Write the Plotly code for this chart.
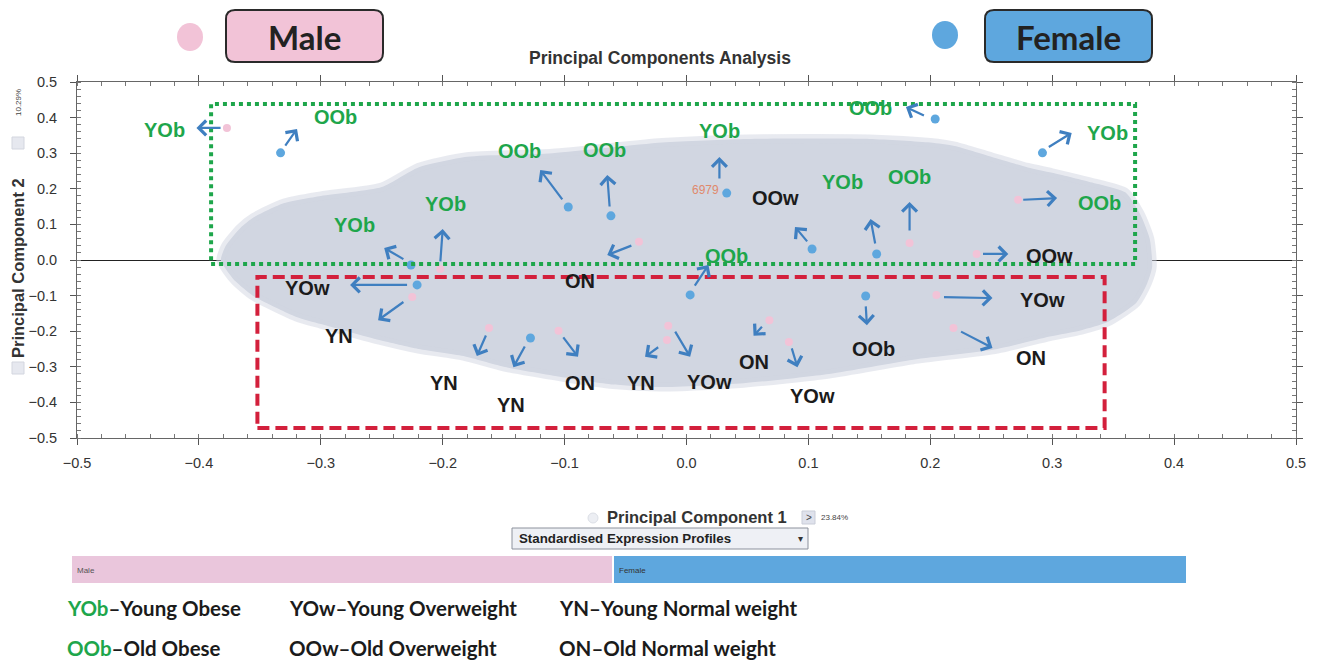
import plotly.graph_objects as go

# ---------------- data ----------------
# samples: sex, weight/age group and PCA scores
sex = ['M', 'F', 'F', 'M', 'F', 'M', 'M', 'F', 'M', 'M', 'M', 'M', 'F', 'F',
       'F', 'F', 'F', 'F', 'M', 'F', 'F', 'M', 'M', 'M', 'M', 'F', 'M', 'M']
group = ['YOb', 'OOb', 'YOb', 'YOb', 'YOw', 'YN', 'YN', 'YN', 'ON', 'YN', 'YOw', 'ON', 'OOb', 'OOb',
         'YOb', 'OOb', 'OOw', 'YOb', 'OOb', 'OOb', 'YOb', 'OOb', 'OOw', 'YOw', 'ON', 'OOb', 'ON', 'YOw']
pc1 = [-0.377, -0.333, -0.226, -0.202, -0.221, -0.225, -0.162, -0.128, -0.105, -0.016, -0.015, -0.039, -0.097, -0.062,
       0.033, 0.003, 0.103, 0.156, 0.183, 0.204, 0.292, 0.272, 0.238, 0.205, 0.219, 0.147, 0.068, 0.084]
pc2 = [0.371, 0.301, -0.014, -0.025, -0.070, -0.104, -0.191, -0.219, -0.199, -0.225, -0.185, 0.051, 0.149, 0.124,
       0.188, -0.098, 0.031, 0.017, 0.048, 0.396, 0.301, 0.169, 0.017, -0.098, -0.191, -0.101, -0.169, -0.230]

# direction arrows (tail -> head) and label anchor for each sample
tail_x = [-0.381, -0.330, -0.231, -0.202, -0.228, -0.231, -0.164, -0.132, -0.102, -0.022, -0.010, -0.044, -0.101, -0.063,
          0.027, 0.006, 0.100, 0.155, 0.183, 0.196, 0.296, 0.275, 0.242, 0.210, 0.224, 0.147, 0.063, 0.086]
tail_y = [0.371, 0.317, 0.000, -0.008, -0.070, -0.115, -0.208, -0.239, -0.213, -0.242, -0.197, 0.042, 0.166, 0.146,
          0.225, -0.076, 0.048, 0.042, 0.079, 0.404, 0.315, 0.169, 0.017, -0.104, -0.199, -0.126, -0.183, -0.244]
head_x = [-0.402, -0.3195, -0.248, -0.200, -0.276, -0.253, -0.172, -0.142, -0.089, -0.034, 0.003, -0.065, -0.120, -0.065,
          0.027, 0.018, 0.089, 0.151, 0.183, 0.180, 0.316, 0.304, 0.264, 0.251, 0.251, 0.148, 0.055, 0.091]
head_y = [0.371, 0.368, 0.034, 0.087, -0.070, -0.169, -0.270, -0.301, -0.272, -0.272, -0.272, 0.014, 0.253, 0.239,
          0.289, -0.014, 0.093, 0.115, 0.163, 0.430, 0.357, 0.174, 0.017, -0.107, -0.247, -0.183, -0.213, -0.301]
label_x = [-0.428, -0.288, -0.272, -0.198, -0.311, -0.285, -0.199, -0.144, -0.087, -0.037, 0.019, -0.087, -0.137, -0.067,
           0.027, 0.033, 0.073, 0.128, 0.183, 0.151, 0.345, 0.339, 0.298, 0.292, 0.283, 0.153, 0.055, 0.103]
label_y = [0.365, 0.402, 0.098, 0.157, -0.079, -0.213, -0.346, -0.407, -0.346, -0.346, -0.343, -0.059, 0.306, 0.309,
           0.362, 0.011, 0.174, 0.219, 0.233, 0.427, 0.357, 0.160, 0.011, -0.112, -0.275, -0.250, -0.287, -0.382]

# outline of the gene-score cloud (upper edge left->right, lower edge right->left)
cloud_upper_x = [-0.382, -0.378, -0.366, -0.355, -0.33, -0.30, -0.25, -0.22, -0.18, -0.11, -0.02, 0.05, 0.15,
                 0.20, 0.22, 0.25, 0.28, 0.30, 0.33, 0.36, 0.372, 0.380, 0.382]
cloud_upper_y = [0.0, 0.04, 0.09, 0.12, 0.16, 0.18, 0.205, 0.26, 0.29, 0.30, 0.33, 0.34, 0.34,
                 0.33, 0.32, 0.29, 0.26, 0.245, 0.22, 0.19, 0.13, 0.06, -0.02]
cloud_lower_x = [0.378, 0.369, 0.345, 0.324, 0.298, 0.255, 0.186, 0.117, 0.047, -0.022, -0.06, -0.10, -0.15,
                 -0.183, -0.22, -0.252, -0.30, -0.32, -0.345, -0.356, -0.37, -0.377]
cloud_lower_y = [-0.065, -0.12, -0.175, -0.197, -0.215, -0.25, -0.28, -0.32, -0.346, -0.357, -0.35, -0.33, -0.30,
                 -0.27, -0.25, -0.225, -0.18, -0.16, -0.12, -0.10, -0.06, -0.03]

x_ticks = [-0.5, -0.4, -0.3, -0.2, -0.1, 0.0, 0.1, 0.2, 0.3, 0.4, 0.5]
y_ticks = [-0.5, -0.4, -0.3, -0.2, -0.1, 0.0, 0.1, 0.2, 0.3, 0.4, 0.5]

sample_label = "6979"
pc1_var, pc2_var = "23.84%", "10.29%"

# highlighted clusters: (x0, x1, y0, y1)
obese_box = (-0.390, 0.368, -0.011, 0.438)
lean_box = (-0.352, 0.343, -0.472, -0.048)

legend_rows = [
    [("YOb", "Young Obese"), ("YOw", "Young Overweight"), ("YN", "Young Normal weight")],
    [("OOb", "Old Obese"), ("OOw", "Old Overweight"), ("ON", "Old Normal weight")],
]

# ---------------- styling ----------------
W, H = 1321, 666
ML, MR, MT, MB = 77, 25, 82, 228
PW, PH = W - ML - MR, H - MT - MB

PINK = '#f2c3d7'
BLUE = '#5ea7de'
ARROW = '#3f7fc0'
GREEN = '#1ea64b'
DARK = '#1b1b1b'
RED = '#d3203c'
AX_FONT = 'Liberation Sans, Arial, sans-serif'
CAL_FONT = 'Lato, Open Sans, sans-serif'


def px(p):
    return (p - ML) / PW


def py(p):
    return (H - MB - p) / PH


fig = go.Figure()

# cloud of gene loadings
cx = cloud_upper_x + cloud_lower_x + [cloud_upper_x[0]]
cy = cloud_upper_y + cloud_lower_y + [cloud_upper_y[0]]
fig.add_trace(go.Scatter(x=cx, y=cy, mode='lines', fill='toself',
                         fillcolor='rgb(209,214,225)',
                         line=dict(color='rgba(209,214,225,0.5)', width=9, shape='spline', smoothing=0.6),
                         hoverinfo='skip', showlegend=False))

# sample points
for s, col, sz in (('M', PINK, 8), ('F', BLUE, 9)):
    idx = [i for i, v in enumerate(sex) if v == s]
    fig.add_trace(go.Scatter(x=[pc1[i] for i in idx], y=[pc2[i] for i in idx], mode='markers',
                             marker=dict(color=col, size=sz, line=dict(width=0)),
                             showlegend=False, hoverinfo='skip'))

annotations = []
shapes = []

# arrows and group labels
obese = {'YOb', 'OOb'}
for i in range(len(sex)):
    annotations.append(dict(x=head_x[i], y=head_y[i], ax=tail_x[i], ay=tail_y[i],
                            xref='x', yref='y', axref='x', ayref='y', text='',
                            showarrow=True, arrowhead=4, arrowsize=1.3, arrowwidth=2.2,
                            arrowcolor=ARROW, standoff=0, startstandoff=0))
    in_upper = label_y[i] >= obese_box[2]
    colr = GREEN if (group[i] in obese and in_upper) else DARK
    annotations.append(dict(x=label_x[i], y=label_y[i], xref='x', yref='y', text=f"<b>{group[i]}</b>",
                            showarrow=False, font=dict(family=AX_FONT, size=20, color=colr)))

annotations.append(dict(x=pc1[14] - 0.005, y=pc2[14] + 0.009, xref='x', yref='y', text=sample_label,
                        xanchor='right', showarrow=False,
                        font=dict(family=AX_FONT, size=12, color='#e0896c')))

# cluster outlines
shapes.append(dict(type='rect', xref='x', yref='y', x0=obese_box[0], x1=obese_box[1],
                   y0=obese_box[2], y1=obese_box[3], line=dict(color=GREEN, width=4, dash='dot')))
shapes.append(dict(type='rect', xref='x', yref='y', x0=lean_box[0], x1=lean_box[1],
                   y0=lean_box[2], y1=lean_box[3], line=dict(color=RED, width=4, dash='12px,6px')))


def rounded(x0, y0, x1, y1, r):
    pts = [
        f"M {px(x0 + r)},{py(y0)}",
        f"L {px(x1 - r)},{py(y0)}",
        f"Q {px(x1)},{py(y0)} {px(x1)},{py(y0 + r)}",
        f"L {px(x1)},{py(y1 - r)}",
        f"Q {px(x1)},{py(y1)} {px(x1 - r)},{py(y1)}",
        f"L {px(x0 + r)},{py(y1)}",
        f"Q {px(x0)},{py(y1)} {px(x0)},{py(y1 - r)}",
        f"L {px(x0)},{py(y0 + r)}",
        f"Q {px(x0)},{py(y0)} {px(x0 + r)},{py(y0)} Z",
    ]
    return ' '.join(pts)


# header: sex key
for (cxp, cyp, col), (bx0, bx1), word in (((190, 37, PINK), (226, 383), 'Male'),
                                         ((945, 35, BLUE), (985, 1152), 'Female')):
    shapes.append(dict(type='circle', xref='paper', yref='paper',
                       x0=px(cxp - 13), x1=px(cxp + 13), y0=py(cyp + 14), y1=py(cyp - 14),
                       fillcolor=col, line=dict(width=0)))
    shapes.append(dict(type='path', xref='paper', yref='paper', path=rounded(bx0, 10, bx1, 62, 9),
                       fillcolor=col, line=dict(color='#2a2a2a', width=2)))
    annotations.append(dict(x=px((bx0 + bx1) / 2), y=py(37), xref='paper', yref='paper', text=f"<b>{word}</b>",
                            showarrow=False, font=dict(family=CAL_FONT, size=33, color='#222222')))

annotations.append(dict(x=px(660), y=py(58), xref='paper', yref='paper',
                        text='<b>Principal Components Analysis</b>', showarrow=False,
                        font=dict(family=AX_FONT, size=17.5, color='#333333')))

# axis titles with small widgets
annotations.append(dict(x=px(697), y=py(517), xref='paper', yref='paper', text='<b>Principal Component 1</b>',
                        showarrow=False, font=dict(family=AX_FONT, size=16.5, color='#333333')))
shapes.append(dict(type='circle', xref='paper', yref='paper', x0=px(588), x1=px(598), y0=py(523), y1=py(513),
                   fillcolor='#eceef3', line=dict(color='#dcdfe6', width=1)))
shapes.append(dict(type='rect', xref='paper', yref='paper', x0=px(802), x1=px(815), y0=py(524), y1=py(511),
                   fillcolor='#dfe2ec', line=dict(color='#c9cdd8', width=1)))
annotations.append(dict(x=px(808.5), y=py(517.5), xref='paper', yref='paper', text='&gt;', showarrow=False,
                        font=dict(family=AX_FONT, size=10, color='#444444')))
annotations.append(dict(x=px(819), y=py(517), xref='paper', yref='paper', text=pc1_var, xanchor='left',
                        showarrow=False, font=dict(family=AX_FONT, size=8, color='#444444')))

annotations.append(dict(x=px(18), y=py(268), xref='paper', yref='paper', text='<b>Principal Component 2</b>',
                        textangle=-90, showarrow=False, font=dict(family=AX_FONT, size=16.5, color='#333333')))
shapes.append(dict(type='rect', xref='paper', yref='paper', x0=px(12), x1=px(24), y0=py(149), y1=py(137),
                   fillcolor='#e6e8ef', line=dict(color='#d3d6df', width=1)))
shapes.append(dict(type='rect', xref='paper', yref='paper', x0=px(12), x1=px(24), y0=py(374), y1=py(362),
                   fillcolor='#e6e8ef', line=dict(color='#d3d6df', width=1)))
annotations.append(dict(x=px(18), y=py(103), xref='paper', yref='paper', text=pc2_var, textangle=-90,
                        showarrow=False, font=dict(family=AX_FONT, size=8, color='#444444')))

# dropdown and sex colour strip
shapes.append(dict(type='rect', xref='paper', yref='paper', x0=px(512), x1=px(808), y0=py(549), y1=py(528),
                   fillcolor='#eef0f5', line=dict(color='#8c919c', width=1)))
annotations.append(dict(x=px(517), y=py(538.5), xref='paper', yref='paper', xanchor='left',
                        text='<b>Standardised Expression Profiles</b>', showarrow=False,
                        font=dict(family=AX_FONT, size=13.3, color='#222222')))
annotations.append(dict(x=px(800), y=py(538), xref='paper', yref='paper', text='▾', showarrow=False,
                        font=dict(family=AX_FONT, size=10, color='#333333')))
shapes.append(dict(type='rect', xref='paper', yref='paper', x0=px(72), x1=px(612), y0=py(583), y1=py(556),
                   fillcolor='#eac6dc', line=dict(width=0)))
shapes.append(dict(type='rect', xref='paper', yref='paper', x0=px(614), x1=px(1186), y0=py(583), y1=py(556),
                   fillcolor='#5ea7de', line=dict(width=0)))
annotations.append(dict(x=px(75), y=py(570), xref='paper', yref='paper', text='Male', xanchor='left',
                        showarrow=False, font=dict(family=AX_FONT, size=8, color='#555555')))
annotations.append(dict(x=px(617), y=py(570), xref='paper', yref='paper', text='Female', xanchor='left',
                        showarrow=False, font=dict(family=AX_FONT, size=8, color='#333333')))

# abbreviation key
col_x = [65, 287, 557]
row_y = [608, 648]
for r, row in enumerate(legend_rows):
    for c, (abbr, desc) in enumerate(row):
        ac = GREEN if abbr in obese else DARK
        annotations.append(dict(x=px(col_x[c]), y=py(row_y[r]), xref='paper', yref='paper', xanchor='left',
                                text=f"<b><span style='color:{ac}'>{abbr}</span>–{desc}</b>",
                                showarrow=False, font=dict(family=CAL_FONT, size=20.5, color=DARK)))

# explicit anchoring so paper-positioned text sits where it is placed
for a in annotations:
    a.setdefault('xanchor', 'center')
    a.setdefault('yanchor', 'middle')

axis_common = dict(range=[-0.5, 0.5], showgrid=False, showline=True, linecolor='#666666', linewidth=1,
                   mirror='ticks', ticks='outside', ticklen=6, tickcolor='#555555',
                   minor=dict(dtick=0.02, ticks='inside', ticklen=4, tickcolor='#777777'),
                   tickfont=dict(family=AX_FONT, size=14.5, color='#333333'), tickformat='.1f')

fig.update_xaxes(**axis_common, tickvals=x_ticks, zeroline=False, ticklabelstandoff=6)
fig.update_yaxes(**axis_common, tickvals=y_ticks, zeroline=True, zerolinecolor='#222222', zerolinewidth=1,
                 ticklabelstandoff=10)

fig.update_layout(width=W, height=H, margin=dict(l=ML, r=MR, t=MT, b=MB),
                  plot_bgcolor='white', paper_bgcolor='white', showlegend=False,
                  annotations=annotations, shapes=shapes)

fig.write_html("out.html")
